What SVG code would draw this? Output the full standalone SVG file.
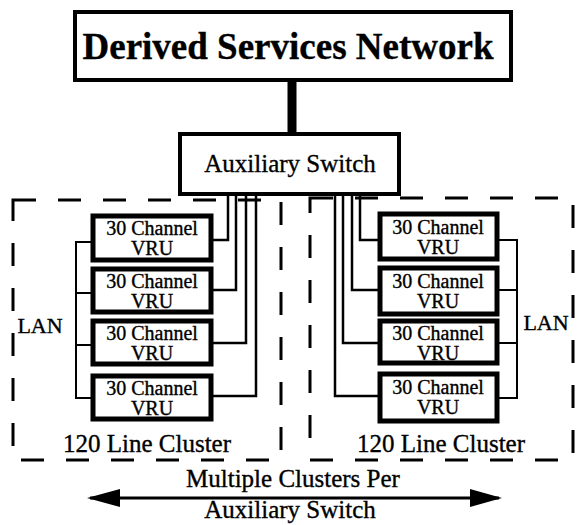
<svg xmlns="http://www.w3.org/2000/svg" width="579" height="525" viewBox="0 0 579 525">
  <defs>
    <style>
      .box { fill: #fff; stroke: #000; stroke-width: 4; }
      .vru { fill: #fff; stroke: #000; stroke-width: 5; }
      .wire { fill: none; stroke: #000; stroke-width: 2.5; stroke-linejoin: miter; }
      .lan { fill: none; stroke: #000; stroke-width: 2; }
      .cluster { fill: none; stroke: #000; stroke-width: 3; stroke-dasharray: 23 22; }
      .t { font-family: "Liberation Serif", "Times New Roman", serif; fill: #000; stroke: #000; stroke-width: 0.35; text-anchor: middle; }
      .vt { font-size: 20px; }
    </style>
  </defs>
  <rect width="579" height="525" fill="#fff"/>

  <!-- cluster outlines -->
  <g id="clusters">
    <rect class="cluster" x="13" y="200" width="268" height="260"/>
    <rect class="cluster" x="310" y="198" width="263" height="262"/>
  </g>

  <!-- connectors -->
  <g id="connectors">
    <line x1="292" y1="80" x2="292" y2="134" stroke="#000" stroke-width="9"/>
    <!-- left cluster links to the switch -->
    <polyline class="wire" points="211,240 228,240 228,194"/>
    <polyline class="wire" points="211,290 236,290 236,194"/>
    <polyline class="wire" points="211,343 246,343 246,194"/>
    <polyline class="wire" points="211,396 256,396 256,194"/>
    <!-- right cluster links to the switch -->
    <polyline class="wire" points="380,240 360,240 360,194"/>
    <polyline class="wire" points="380,290 352,290 352,194"/>
    <polyline class="wire" points="380,343 343,343 343,194"/>
    <polyline class="wire" points="380,396 335,396 335,194"/>
    <!-- LAN buses -->
    <polyline class="lan" points="92,242 76,242 76,398 92,398"/>
    <line class="lan" x1="76" y1="293" x2="92" y2="293"/>
    <line class="lan" x1="76" y1="345" x2="92" y2="345"/>
    <polyline class="lan" points="497,240 517,240 517,398 497,398"/>
    <line class="lan" x1="497" y1="290" x2="517" y2="290"/>
    <line class="lan" x1="497" y1="343" x2="517" y2="343"/>
    <!-- span arrow -->
    <line x1="90" y1="498" x2="499" y2="498" stroke="#000" stroke-width="3"/>
    <path d="M87,498 L120,489 L120,507 Z M502,498 L470,489 L470,507 Z" fill="#000"/>
  </g>

  <g id="dsn">
    <rect class="box" x="75" y="12" width="436" height="68"/>
    <text class="t" x="288" y="59" font-size="37" font-weight="bold" stroke-width="0.2">Derived Services Network</text>
  </g>

  <g id="aux-switch">
    <rect class="box" x="180" y="134" width="219" height="60"/>
    <text class="t" x="290" y="172" font-size="25">Auxiliary Switch</text>
  </g>

  <!-- left cluster VRUs -->
  <g id="vru-l1"><rect class="vru" x="93" y="216" width="118" height="44"/><text class="t vt" x="152" y="235">30 Channel</text><text class="t vt" x="152" y="255">VRU</text></g>
  <g id="vru-l2"><rect class="vru" x="93" y="269" width="118" height="43"/><text class="t vt" x="152" y="288">30 Channel</text><text class="t vt" x="152" y="308">VRU</text></g>
  <g id="vru-l3"><rect class="vru" x="93" y="321" width="118" height="43"/><text class="t vt" x="152" y="340">30 Channel</text><text class="t vt" x="152" y="360">VRU</text></g>
  <g id="vru-l4"><rect class="vru" x="93" y="376" width="118" height="43"/><text class="t vt" x="152" y="395">30 Channel</text><text class="t vt" x="152" y="415">VRU</text></g>

  <!-- right cluster VRUs -->
  <g id="vru-r1"><rect class="vru" x="380" y="214" width="117" height="45"/><text class="t vt" x="438" y="234">30 Channel</text><text class="t vt" x="438" y="254">VRU</text></g>
  <g id="vru-r2"><rect class="vru" x="380" y="268" width="117" height="46"/><text class="t vt" x="438" y="288">30 Channel</text><text class="t vt" x="438" y="308">VRU</text></g>
  <g id="vru-r3"><rect class="vru" x="380" y="321" width="117" height="42"/><text class="t vt" x="438" y="340">30 Channel</text><text class="t vt" x="438" y="360">VRU</text></g>
  <g id="vru-r4"><rect class="vru" x="380" y="374" width="117" height="47"/><text class="t vt" x="438" y="394">30 Channel</text><text class="t vt" x="438" y="414">VRU</text></g>

  <!-- labels -->
  <g id="labels">
    <text class="t" x="40" y="333" font-size="22">LAN</text>
    <text class="t" x="546" y="330" font-size="22">LAN</text>
    <text class="t" x="147" y="452" font-size="25">120 Line Cluster</text>
    <text class="t" x="441" y="452" font-size="25">120 Line Cluster</text>
    <text class="t" x="293" y="487" font-size="25">Multiple Clusters Per</text>
    <text class="t" x="290" y="518" font-size="25">Auxiliary Switch</text>
  </g>
</svg>
